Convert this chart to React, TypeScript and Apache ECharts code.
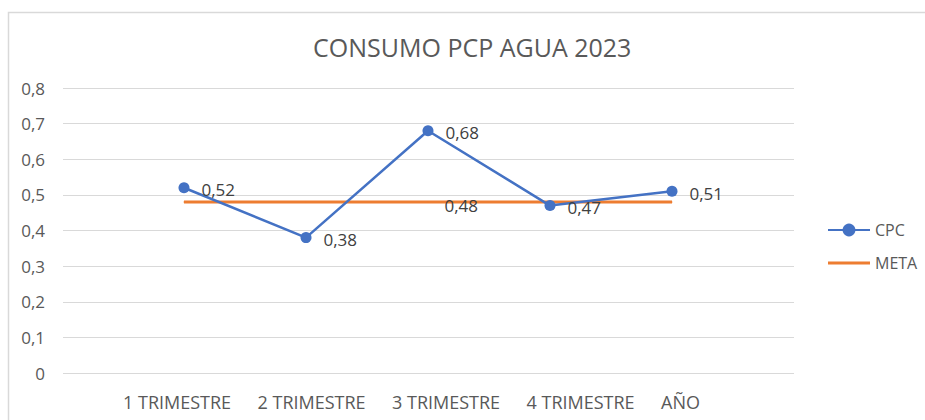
import React, { useEffect, useRef } from "react";
import * as echarts from "echarts";

const categories = ["1 TRIMESTRE", "2 TRIMESTRE", "3 TRIMESTRE", "4 TRIMESTRE", "AÑO"];
const cpcValues = [0.52, 0.38, 0.68, 0.47, 0.51];
const metaValues = [0.48, 0.48, 0.48, 0.48, 0.48];
const metaLabelIndex = 2;
const yMin = 0;
const yMax = 0.8;
const yInterval = 0.1;
const titleText = "CONSUMO PCP AGUA 2023";

const FONT = "'Open Sans', sans-serif";
const AXIS_COLOR = "#595959";
const LABEL_COLOR = "#404040";
const GRID_COLOR = "#D9D9D9";

const fmt2 = (v: number) => v.toFixed(2).replace(".", ",");
const fmtY = (v: number) => (v === 0 ? "0" : v.toFixed(1).replace(".", ","));

export default function App() {
  const ref = useRef<HTMLDivElement>(null);

  useEffect(() => {
    if (!ref.current) return;
    const chart = echarts.init(ref.current, undefined, { renderer: "svg" });
    const top = 88;
    const bottom = 420 - 373;
    const dataLabel = {
      show: true,
      position: "right" as const,
      distance: 12,
      offset: [0, 2],
      color: LABEL_COLOR,
      fontSize: 17,
      fontFamily: FONT,
      formatter: (p: any) => fmt2(p.value),
    };
    chart.setOption({
      animation: false,
      backgroundColor: "#ffffff",
      textStyle: { fontFamily: FONT },
      title: {
        text: titleText,
        left: 308,
        top: 29,
        textStyle: { color: AXIS_COLOR, fontSize: 25, fontWeight: "normal", fontFamily: FONT },
      },
      graphic: [
        {
          type: "rect",
          shape: { x: 8.5, y: 12.5, width: 940, height: 440 },
          style: { fill: "none", stroke: GRID_COLOR, lineWidth: 1.5 },
          silent: true,
          z: -1,
        },
      ],
      legend: {
        orient: "vertical",
        left: 822,
        top: 217,
        itemWidth: 42,
        itemHeight: 16,
        itemGap: 17,
        data: [
          { name: "CPC" },
          { name: "META", icon: "path://M0,0 L40,0 L40,3 L0,3 Z" },
        ],
        textStyle: { color: AXIS_COLOR, fontSize: 16, fontFamily: FONT, lineHeight: 16 },
      },
      grid: [
        { left: 63, width: 731, top, bottom },
        { left: 123, width: 610, top, bottom },
        { left: 123, width: 538, top, bottom },
      ],
      xAxis: [
        {
          gridIndex: 0,
          type: "category",
          data: categories,
          axisLine: { show: false },
          axisTick: { show: false },
          axisLabel: { show: false },
        },
        {
          gridIndex: 1,
          type: "category",
          data: categories,
          boundaryGap: true,
          axisLine: { show: false },
          axisTick: { show: false },
          axisLabel: { show: false },
        },
        {
          gridIndex: 2,
          type: "category",
          data: categories,
          boundaryGap: false,
          axisLine: { show: false },
          axisTick: { show: false },
          axisLabel: {
            show: true,
            align: "left",
            margin: 20,
            color: AXIS_COLOR,
            fontSize: 18,
            fontFamily: FONT,
            interval: 0,
          },
        },
      ],
      yAxis: [
        {
          gridIndex: 0,
          type: "value",
          min: yMin,
          max: yMax,
          interval: yInterval,
          axisLine: { show: false },
          axisTick: { show: false },
          splitLine: { show: true, lineStyle: { color: GRID_COLOR, width: 1 } },
          axisLabel: {
            color: AXIS_COLOR,
            fontSize: 17,
            fontFamily: FONT,
            margin: 18,
            formatter: fmtY,
          },
        },
        {
          gridIndex: 1,
          type: "value",
          min: yMin,
          max: yMax,
          interval: yInterval,
          show: false,
          splitLine: { show: false },
        },
        {
          gridIndex: 2,
          type: "value",
          min: yMin,
          max: yMax,
          interval: yInterval,
          show: false,
          splitLine: { show: false },
        },
      ],
      series: [
        {
          name: "CPC",
          type: "line",
          xAxisIndex: 1,
          yAxisIndex: 1,
          data: cpcValues,
          symbol: "circle",
          symbolSize: 11,
          color: "#4472C4",
          lineStyle: { color: "#4472C4", width: 2.5 },
          itemStyle: { color: "#4472C4" },
          label: dataLabel,
          z: 3,
        },
        {
          name: "META",
          type: "line",
          xAxisIndex: 1,
          yAxisIndex: 1,
          data: metaValues.map((v, i) => ({
            value: v,
            label: { show: i === metaLabelIndex },
          })),
          showSymbol: true,
          symbol: "circle",
          symbolSize: 1,
          color: "#ED7D31",
          lineStyle: { color: "#ED7D31", width: 3 },
          itemStyle: { color: "#ED7D31" },
          label: { ...dataLabel, show: false, distance: 16, offset: [0, 3] },
          z: 2,
        },
      ],
    });
    return () => chart.dispose();
  }, []);

  return (
    <div
      ref={ref}
      style={{ position: "absolute", left: 0, top: 0, width: 925, height: 420 }}
    />
  );
}
